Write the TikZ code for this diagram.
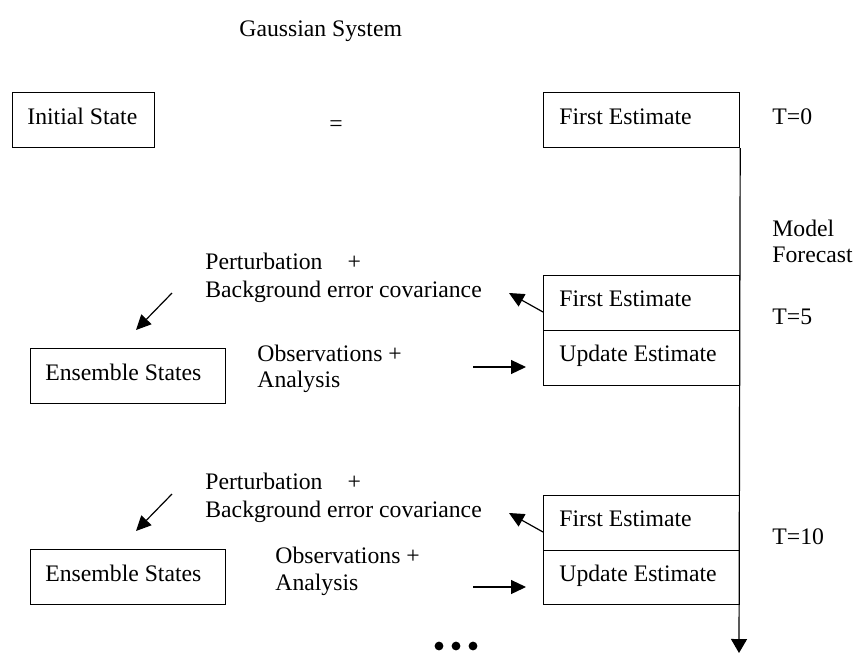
\documentclass[tikz,border=0pt]{standalone}
\usepackage{fontspec}
\setmainfont{Liberation Serif}
\usetikzlibrary{arrows.meta}
\begin{document}
\begin{tikzpicture}[x=0.5pt,y=-0.5pt,
  every node/.style={font=\fontsize{11.85}{13.75}\selectfont},
  boxed/.style={draw, line width=0.6pt, anchor=north west, inner sep=0pt},
  lbl/.style={anchor=base west, inner sep=0pt},
  arr/.style={line width=0.6pt, -{Triangle[length=7.5pt,width=7pt]}},
  dot/.style={fill=black}]
  % page frame
  \fill[white] (0,0) rectangle (855,653);
  \useasboundingbox (0,0) rectangle (855,653);

  % title
  \node[lbl] (title) at (239,36) {Gaussian System};

  % T = 0 row
  \node[boxed, minimum width=71pt, minimum height=27.5pt] (init) at (12,92) {};
  \node[lbl] (initT) at (27,124) {Initial State};
  \node[lbl] (eq) at (329,131) {=};
  \node[boxed, minimum width=98pt, minimum height=27.5pt] (fe0) at (543,92) {};
  \node[lbl] (fe0T) at (559,124) {First Estimate};
  \node[lbl] (t0) at (772,124) {T=0};

  % forecast axis
  \coordinate (axisEnd) at (739,653);
  \draw[line width=0.6pt, -{Triangle[length=7pt,width=8pt]}] (fe0.south east) -- (axisEnd);
  \node[lbl] (mod) at (772,236) {Model};
  \node[lbl] (fcst) at (772,262) {Forecast};

  % T = 5 cycle
  \node[boxed, minimum width=98pt, minimum height=27.5pt] (fe1) at (543,275) {};
  \node[boxed, minimum width=98pt, minimum height=27.5pt] (up1) at (543,330) {};
  \node[lbl] (fe1T) at (559,306) {First Estimate};
  \node[lbl] (up1T) at (559,361) {Update Estimate};
  \node[lbl] (t5) at (772,324) {T=5};
  \node[boxed, minimum width=97.5pt, minimum height=27.5pt] (ens1) at (30,348) {};
  \node[lbl] (ens1T) at (45,380) {Ensemble States};
  \node[lbl] (pert1) at (205,269) {Perturbation\hspace{12.5pt}+};
  \node[lbl] (bec1) at (205,297) {Background error covariance};
  \node[lbl] (obs1) at (257,361) {Observations +};
  \node[lbl] (ana1) at (257,387) {Analysis};
  \coordinate (p1s) at (fe1.west |- 0,312);
  \coordinate (p1e) at (509,293);
  \draw[arr] (p1s) -- (p1e);
  \coordinate (d1s) at (172,293);
  \coordinate (d1e) at (136,330);
  \draw[arr] (d1s) -- (d1e);
  \coordinate (h1s) at (473,367);
  \coordinate (h1e) at (526,367);
  \draw[arr] (h1s) -- (h1e);

  % T = 10 cycle
  \node[boxed, minimum width=98pt, minimum height=27.5pt] (fe2) at (543,495) {};
  \node[boxed, minimum width=98pt, minimum height=27pt] (up2) at (543,550) {};
  \node[lbl] (fe2T) at (559,526) {First Estimate};
  \node[lbl] (up2T) at (559,581) {Update Estimate};
  \node[lbl] (t10) at (772,544) {T=10};
  \node[boxed, minimum width=97.5pt, minimum height=27.5pt] (ens2) at (30,549) {};
  \node[lbl] (ens2T) at (45,581) {Ensemble States};
  \node[lbl] (pert2) at (205,489) {Perturbation\hspace{12.5pt}+};
  \node[lbl] (bec2) at (205,517) {Background error covariance};
  \node[lbl] (obs2) at (275,563) {Observations +};
  \node[lbl] (ana2) at (275,590) {Analysis};
  \coordinate (p2s) at (fe2.west |- 0,532);
  \coordinate (p2e) at (509,513);
  \draw[arr] (p2s) -- (p2e);
  \coordinate (d2s) at (172,494);
  \coordinate (d2e) at (136,531);
  \draw[arr] (d2s) -- (d2e);
  \coordinate (h2s) at (473,587);
  \coordinate (h2e) at (526,587);
  \draw[arr] (h2s) -- (h2e);

  % continuation marks
  \fill[dot] (439,646) circle (2.2pt);
  \fill[dot] (456,646) circle (2.2pt);
  \fill[dot] (473,646) circle (2.2pt);
\end{tikzpicture}
\end{document}
